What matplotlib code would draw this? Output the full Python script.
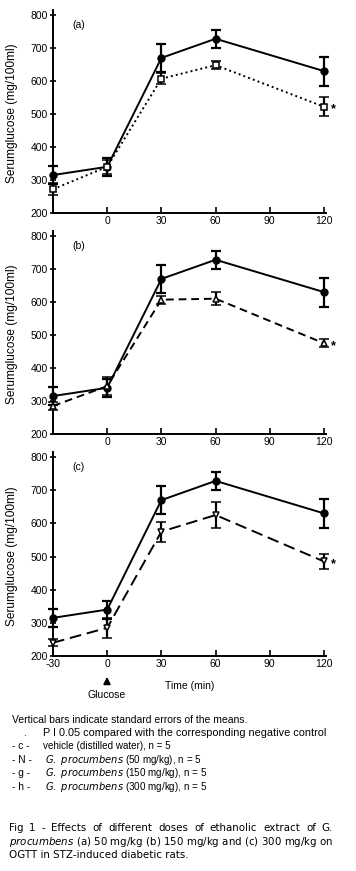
import numpy as np
import matplotlib
matplotlib.use('Agg')
import matplotlib.pyplot as plt
from matplotlib.patches import FancyArrowPatch

plt.rcParams['font.family'] = ['Liberation Sans', 'DejaVu Sans']

W, H = 356, 871

time = [-30, 0, 30, 60, 120]
xticks = [-30, 0, 30, 60, 90, 120]

control = [315, 340, 670, 728, 630]
control_err = [27, 27, 42, 27, 44]

dose50 = [272, 340, 607, 648, 522]
dose50_err = [18, 22, 16, 13, 28]

dose150 = [285, 345, 607, 610, 475]
dose150_err = [12, 28, 12, 20, 12]

dose300 = [240, 285, 575, 625, 485]
dose300_err = [10, 30, 30, 38, 22]

panels = ['(a)', '(b)', '(c)']
treated = [dose50, dose150, dose300]
treated_err = [dose50_err, dose150_err, dose300_err]
markers = ['s', '^', 'v']
styles = [(0, (1, 1.6)), (0, (4, 2.5)), (0, (6, 3))]
# y pixel of 800 and 200 for each panel
ypix = [(15, 213), (236, 434), (457, 656)]

fig = plt.figure(figsize=(W / 100, H / 100), dpi=100)

x_left, x_m30, x_120 = 53, 53, 324
px_per_min = (x_120 - x_m30) / 150.0
xmin, xmax = -30, 121

for i in range(3):
    top, bot = ypix[i]
    px_per_unit = (bot - top) / 600.0
    ymax = 815
    y_top_px = bot - (ymax - 200) * px_per_unit
    ax_w = (xmax - xmin) * px_per_min
    ax = fig.add_axes([x_left / W, 1 - bot / H, ax_w / W, (bot - y_top_px) / H])
    ax.set_xlim(xmin, xmax)
    ax.set_ylim(200, ymax)

    ax.errorbar(time, control, yerr=control_err, color='black', lw=1.4,
                marker='o', ms=5, capsize=3.5, elinewidth=1.6, capthick=1.6,
                clip_on=False, zorder=3)
    ax.errorbar(time, treated[i], yerr=treated_err[i], color='black', lw=1.4,
                ls=styles[i], marker=markers[i], ms=5, mfc='white', mew=1.1,
                capsize=3.5, elinewidth=1.6, capthick=1.6, clip_on=False,
                zorder=4)
    ax.text(124, treated[i][-1] - 8, '*', fontsize=9, fontweight='bold',
            ha='left', va='center')
    ax.text(-19, 770, panels[i], fontsize=7.5, ha='left', va='center')

    ax.spines['top'].set_visible(False)
    ax.spines['right'].set_visible(False)
    ax.spines['left'].set_linewidth(1.4)
    ax.spines['bottom'].set_linewidth(1.4)
    ax.set_yticks([200, 300, 400, 500, 600, 700, 800])
    ax.set_xticks(xticks)
    if i == 2:
        ax.set_xticklabels([str(t) for t in xticks])
    else:
        ax.set_xticklabels([''] + [str(t) for t in xticks[1:]])
    ax.tick_params(axis='y', direction='inout', length=5, width=1.2,
                   labelsize=7.5, pad=1)
    ax.tick_params(axis='x', direction='in', length=4, width=1.2,
                   labelsize=7.5, pad=2)
    ax.set_ylabel('Serumglucose (mg/100ml)', fontsize=8.6)
    ax.yaxis.set_label_coords(-35 / ax_w, 0.49)

# glucose arrow
fig.add_artist(FancyArrowPatch((107 / W, 1 - 687 / H), (107 / W, 1 - 674 / H),
                               transform=fig.transFigure, arrowstyle='-|>',
                               color='black', lw=1.3, mutation_scale=10))
fig.text(107 / W, 1 - 695 / H, 'Glucose', fontsize=7.5, ha='center', va='center')
fig.text(190 / W, 1 - 686 / H, 'Time (min)', fontsize=7.5, ha='center', va='center')

fig.text(12 / W, 1 - 720 / H, 'Vertical bars indicate standard errors of the means.',
         fontsize=7.5, ha='left', va='center')
fig.text(23 / W, 1 - 733 / H, '.', fontsize=7, ha='left', va='center')
fig.text(43 / W, 1 - 733 / H,
         'P I 0.05 compared with the corresponding negative control',
         fontsize=7.8, ha='left', va='center')

legend_codes = ['- c -', '- N -', '- g -', '- h -']
legend_labels = [
    'vehicle (distilled water), n = 5',
    '$\\it{G.\\ procumbens}$ (50 mg/kg), n = 5',
    '$\\it{G.\\ procumbens}$ (150 mg/kg), n = 5',
    '$\\it{G.\\ procumbens}$ (300 mg/kg), n = 5',
]
for k, (code, label) in enumerate(zip(legend_codes, legend_labels)):
    y = 746 + k * 13.5
    fig.text(12 / W, 1 - y / H, code, fontsize=7.3, ha='left', va='center')
    fig.text((43 if k == 0 else 45) / W, 1 - y / H, label, fontsize=7.1,
             ha='left', va='center')

caption = ['Fig 1 - Effects of different doses of ethanolic extract of G.',
           '$\\it{procumbens}$ (a) 50 mg/kg (b) 150 mg/kg and (c) 300 mg/kg on',
           'OGTT in STZ-induced diabetic rats.']
cap_kw = dict(fontsize=7.4, ha='left', va='center', family='DejaVu Sans')

# first caption line is justified between x=9 and x=333 px
renderer = fig.canvas.get_renderer()
words = caption[0].split(' ')
widths = []
for w in words:
    t = fig.text(0, 0, w, **cap_kw)
    widths.append(t.get_window_extent(renderer).width)
    t.remove()
gap = (333 - 9 - sum(widths)) / (len(words) - 1)
xpos = 9
for w, wd in zip(words, widths):
    fig.text(xpos / W, 1 - 828 / H, w, **cap_kw)
    xpos += wd + gap

for k, line in enumerate(caption[1:], start=1):
    fig.text(9 / W, 1 - (828 + k * 13.5) / H, line, **cap_kw)

fig.savefig('out.png', dpi=100)
